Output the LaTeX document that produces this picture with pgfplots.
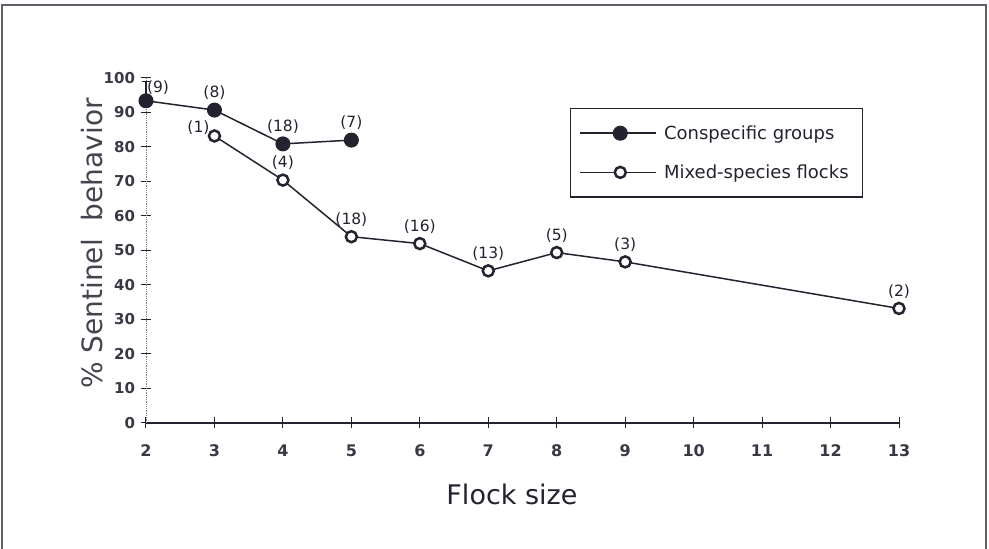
\documentclass[border=0pt]{standalone}
\usepackage{fontspec}
\setmainfont{DejaVu Sans}
\usepackage{pgfplots}
\usepackage{pgfplotstable}
\pgfplotsset{compat=1.18}
\definecolor{ink}{RGB}{35,35,48}
\definecolor{framec}{RGB}{95,95,105}

\pgfplotstableread{
x y
0 93.4
1 90.7
2 80.9
3 82.0
}\consp
\pgfplotstableread{
x y
1 83.2
2 70.4
3 54.0
4 52.0
5 44.1
6 49.4
7 46.7
11 33.2
}\mixed
\pgfplotstableread{
x y lab
1 90.7 (8)
2 80.9 (18)
3 82.0 (7)
2 70.4 (4)
3 54.0 (18)
4 52.0 (16)
5 44.1 (13)
6 49.4 (5)
7 46.7 (3)
11 33.2 (2)
}\labsabove

\begin{document}
\begin{tikzpicture}[x=1pt,y=1pt]
\useasboundingbox (0,0) rectangle (989,549);
\draw[framec, line width=1.3pt] (2,-2) -- (2,544) -- (986,544) -- (986,-2);
\begin{axis}[
  at={(146pt,126pt)}, anchor=south west,
  scale only axis, width=753pt, height=345pt,
  xmin=0, xmax=11, ymin=0, ymax=100,
  axis lines*=left,
  axis line style={-},
  x axis line style={ink, line width=1.2pt},
  y axis line style={gray, line width=0.8pt, densely dotted},
  xtick={0,...,11}, xticklabels={2,3,4,5,6,7,8,9,10,11,12,13},
  ytick={0,10,...,100},
  tick align=center, major tick length=11pt,
  tick style={ink, line width=1pt},
  /pgf/number format/assume math mode=true,
  yticklabel style={font=\bfseries\fontsize{15}{15}\selectfont, text=ink!90, xshift=-2pt},
  xticklabel style={font=\bfseries\fontsize{16}{16}\selectfont, text=ink!90, yshift=-13pt},
  clip=false,
  xlabel={Flock size},
  ylabel={\% Sentinel\ \ behavior},
  every axis x label/.style={at={(axis description cs:0.486,-0.206)}, anchor=center, font=\fontsize{27}{27}\selectfont, text=ink},
  every axis y label/.style={at={(axis description cs:-0.0717,0.52)}, anchor=center, rotate=90, font=\fontsize{28}{28}\selectfont, text=ink!85},
  legend style={at={(axis description cs:0.563,0.913)}, anchor=north west, draw=ink, line width=1.2pt, fill=white,
    inner xsep=9pt, inner ysep=14pt, row sep=18pt, font=\fontsize{18}{18}\selectfont, text=ink, nodes={inner sep=3pt},
    /tikz/every odd column/.append style={column sep=4pt}},
  legend cell align=left,
  legend image code/.code={\draw[mark repeat=2, mark phase=2, #1] plot coordinates {(0pt,0pt) (40pt,0pt) (76pt,0pt)};},
]
\addplot[forget plot, only marks, mark=none,
  error bars/.cd, y dir=plus, y explicit,
  error bar style={ink, line width=1.2pt},
  error mark options={rotate=90, mark size=4pt, line width=1.2pt, ink}]
  coordinates {(0,93.4) +- (0,5.5)};
\addplot[ink, line width=1.5pt, mark=*, mark size=7pt, mark options={fill=ink, draw=ink, line width=1pt}]
  table[x=x,y=y] {\consp};
\addlegendentry{Conspecific groups}
\addplot[ink, line width=1.5pt, mark=*, mark size=5.5pt, mark options={fill=white, draw=ink, line width=2.5pt}]
  table[x=x,y=y] {\mixed};
\addlegendentry{Mixed-species flocks\kern2pt}
\addplot[forget plot, draw=none, mark=none, nodes near coords, point meta=explicit symbolic,
  nodes near coords style={anchor=center, yshift=17pt, font=\fontsize{15.5}{15.5}\selectfont, text=ink}]
  table[x=x,y=y,meta=lab] {\labsabove};
\addplot[forget plot, draw=none, mark=none, nodes near coords, point meta=explicit symbolic,
  nodes near coords style={anchor=center, xshift=12pt, yshift=13pt, font=\fontsize{15.5}{15.5}\selectfont, text=ink}]
  coordinates {(0,93.4) [(9)]};
\addplot[forget plot, draw=none, mark=none, nodes near coords, point meta=explicit symbolic,
  nodes near coords style={anchor=center, xshift=-16pt, yshift=8pt, font=\fontsize{15.5}{15.5}\selectfont, text=ink}]
  coordinates {(1,83.2) [(1)]};
\end{axis}
\end{tikzpicture}
\end{document}
